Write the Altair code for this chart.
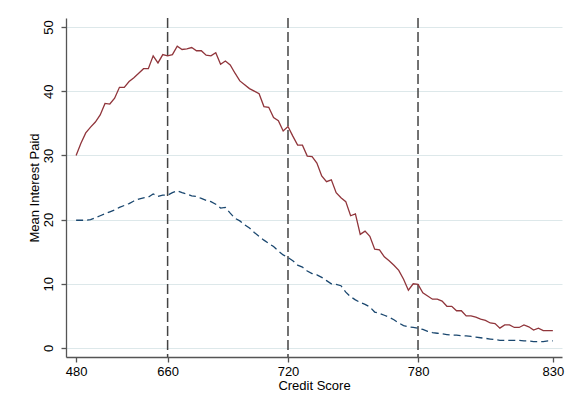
import altair as alt
import pandas as pd

# x positions are score bins (1..100); tick labels give the credit score at those bins
bins = list(range(1, 101))
tick_pos = [1, 20, 45, 72, 100]
tick_lab = ["480", "660", "720", "780", "830"]
ref_pos = [20, 45, 72]
y_ticks = [0, 10, 20, 30, 40, 50]

red = [30.0, 31.9, 33.5, 34.4, 35.2, 36.3, 38.1, 38.0, 38.9, 40.6,
       40.6, 41.5, 42.1, 42.8, 43.5, 43.5, 45.5, 44.4, 45.7, 45.5,
       45.7, 47.0, 46.5, 46.6, 46.8, 46.3, 46.3, 45.6, 45.5, 46.0,
       44.2, 44.7, 44.1, 42.8, 41.6, 41.0, 40.4, 40.0, 39.6, 37.6,
       37.5, 35.9, 35.4, 33.8, 34.5, 33.0, 31.6, 31.6, 29.9, 29.8,
       28.8, 26.8, 25.9, 26.2, 24.2, 23.4, 22.8, 20.6, 20.9, 17.7,
       18.2, 17.4, 15.4, 15.3, 14.2, 13.6, 12.9, 12.1, 10.7, 9.0,
       10.0, 9.9, 8.6, 8.1, 7.6, 7.6, 7.3, 6.5, 6.5, 5.8,
       5.8, 5.0, 5.0, 4.8, 4.5, 4.3, 3.9, 3.8, 3.1, 3.6,
       3.6, 3.2, 3.2, 3.6, 3.3, 2.8, 3.1, 2.7, 2.7, 2.7]

blue = [19.9, 19.9, 19.9, 20.0, 20.3, 20.6, 20.9, 21.2, 21.5, 21.9,
        22.2, 22.5, 22.9, 23.2, 23.4, 23.5, 24.0, 23.6, 23.8, 23.8,
        24.2, 24.5, 24.2, 24.0, 23.7, 23.6, 23.3, 23.0, 22.8, 22.4,
        21.8, 21.9, 21.0, 20.2, 19.8, 19.2, 18.7, 18.0, 17.4, 16.8,
        16.3, 15.8, 15.1, 14.5, 14.1, 13.6, 12.9, 12.6, 12.0, 11.6,
        11.4, 11.0, 10.5, 10.0, 9.9, 9.7, 8.7, 8.0, 7.5, 7.1,
        6.8, 6.4, 5.6, 5.4, 5.1, 4.8, 4.4, 3.9, 3.5, 3.3,
        3.2, 3.1, 2.9, 2.6, 2.4, 2.3, 2.2, 2.1, 2.0, 2.0,
        1.9, 1.9, 1.8, 1.7, 1.6, 1.5, 1.4, 1.3, 1.2, 1.2,
        1.2, 1.2, 1.2, 1.1, 1.1, 1.0, 1.0, 1.0, 1.1, 1.1]

FONT = "Liberation Sans"

label_expr = ""
for p, l in zip(tick_pos, tick_lab):
    label_expr += f"datum.value == {p} ? '{l}' : "
label_expr += "''"

df_red = pd.DataFrame({"bin": bins, "value": red})
df_blue = pd.DataFrame({"bin": bins, "value": blue})
df_ref = pd.DataFrame({"bin": ref_pos})

xscale = alt.Scale(domain=[-1.1, 101.9], nice=False, zero=False)
yscale = alt.Scale(domain=[-1.4, 51.4], nice=False, zero=False)

xaxis = alt.Axis(values=tick_pos, labelExpr=label_expr, grid=False,
                 title="Credit Score", domainColor="#555555", domainWidth=1.3,
                 tickColor="#555555", tickWidth=1.3, tickSize=5,
                 labelFont=FONT, labelFontSize=13, labelColor="#000000",
                 labelPadding=3, labelFlush=False,
                 titleFont=FONT, titleFontSize=13, titleFontWeight="normal",
                 titleColor="#000000", titlePadding=1)
yaxis = alt.Axis(values=y_ticks, grid=True, gridColor="#dde8ea", gridWidth=1,
                 title="Mean Interest Paid", domainColor="#555555", domainWidth=1.3,
                 tickColor="#555555", tickWidth=1.3, tickSize=5,
                 labelAngle=270, labelAlign="center", labelBaseline="bottom",
                 labelFont=FONT, labelFontSize=13, labelColor="#000000",
                 labelPadding=6,
                 titleFont=FONT, titleFontSize=13, titleFontWeight="normal",
                 titleColor="#000000", titlePadding=1)

base_grid = alt.Chart(df_red).mark_line(opacity=0).encode(
    x=alt.X("bin:Q", scale=xscale, axis=xaxis),
    y=alt.Y("value:Q", scale=yscale, axis=yaxis),
)

refs = alt.Chart(df_ref).mark_rule(color="#444444", strokeWidth=1.5,
                                   strokeDash=[10, 4]).encode(
    x=alt.X("bin:Q", scale=xscale)
)

red_line = alt.Chart(df_red).mark_line(color="#90353b", strokeWidth=1.3).encode(
    x=alt.X("bin:Q", scale=xscale),
    y=alt.Y("value:Q", scale=yscale),
)

blue_line = alt.Chart(df_blue).mark_line(color="#1a476f", strokeWidth=1.3,
                                         strokeDash=[7, 4]).encode(
    x=alt.X("bin:Q", scale=xscale),
    y=alt.Y("value:Q", scale=yscale),
)

chart = alt.layer(base_grid, refs, blue_line, red_line).properties(
    width=496, height=339,
    autosize=alt.AutoSizeParams(type="none"),
    padding={"left": 66, "top": 18, "right": 5, "bottom": 53},
    background="#ffffff",
).configure_view(stroke=None)

chart.save("out.html", embed_options={"renderer": "svg", "actions": False})
